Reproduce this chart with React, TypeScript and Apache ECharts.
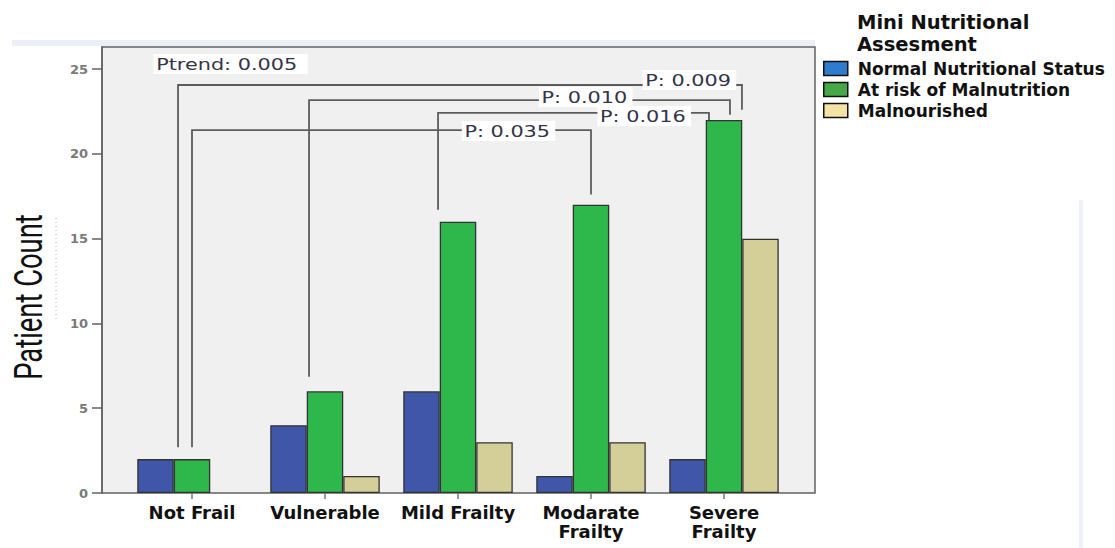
import React, { useEffect, useRef } from "react";
import * as echarts from "echarts";

// ---------- data ----------
const categories = ["Not Frail", "Vulnerable", "Mild Frailty", "Modarate\nFrailty", "Severe\nFrailty"];
const seriesNames = ["Normal Nutritional Status", "At risk of Malnutrition", "Malnourished"];
const normalValues = [2, 4, 6, 1, 2];
const atRiskValues = [2, 6, 16, 17, 22];
const malnourishedValues = [0, 1, 3, 3, 15];
const yTicks = [0, 5, 10, 15, 20, 25];
const yMax = 26.3;

// significance brackets (category index, value levels)
const bracketLabels = ["P: 0.009", "P: 0.010", "P: 0.016", "P: 0.035"];
const bracketFrom = [0, 1, 2, 0];
const bracketTo = [4, 4, 4, 3];
const bracketLevel = [24.06, 23.17, 22.41, 21.4];
const bracketFromEnd = [2.7, 6.85, 16.7, 2.7];
const bracketToEnd = [22.6, 22.3, 22.0, 17.6];
const bracketLabelCat = [3.74, 2.96, 3.4, 2.38];
const bracketLabelValue = [24.35, 23.35, 22.23, 21.34];
const trendLabel = "Ptrend: 0.005";
const trendLabelCat = 0.29;
const trendLabelValue = 25.3;

// ---------- layout / style ----------
const legFromOffset = [-0.105, -0.12, -0.15, 0.0];
const legToOffset = [0.135, 0.045, -0.113, 0.0];

const barColors = ["#3f56a9", "#2eb84b", "#d4cf99"];
const legendColors = ["#2f7ccf", "#46a846", "#f5e3a6"];

export default function App() {
  const ref = useRef<HTMLDivElement>(null);

  useEffect(() => {
    document.body.style.margin = "0";
    if (!ref.current) return;
    const chart = echarts.init(ref.current, undefined, { renderer: "svg" });

    const bracketData = bracketLabels.map((_, i) => [
      bracketFrom[i],
      bracketTo[i],
      bracketLevel[i],
      bracketFromEnd[i],
      bracketToEnd[i],
      bracketLabelCat[i],
      bracketLabelValue[i],
    ]);

    const labelFont = "16px 'DejaVu Sans'";

    const option: any = {
      animation: false,
      backgroundColor: "#ffffff",
      title: {
        text: "Mini Nutritional\nAssesment",
        left: 857,
        top: 11,
        padding: 0,
        textStyle: {
          fontFamily: "DejaVu Sans",
          fontWeight: "bold",
          fontSize: 19.5,
          lineHeight: 22,
          color: "#111",
        },
      },
      legend: {
        orient: "vertical",
        left: 818,
        top: 55,
        itemWidth: 24,
        itemHeight: 14,
        itemGap: 4,
        icon: "rect",
        selectedMode: false,
        textStyle: {
          fontFamily: "DejaVu Sans",
          fontWeight: "bold",
          fontSize: 17,
          color: "#111",
          padding: [0, 0, 0, 5],
        },
        data: seriesNames.map((n, i) => ({
          name: n,
          itemStyle: { color: legendColors[i], borderColor: "#111", borderWidth: 1.5 },
        })),
      },
      grid: [
        {
          left: 102,
          top: 47,
          width: 713,
          height: 446,
          show: true,
          backgroundColor: "#f0f0f0",
          borderColor: "#626262",
          borderWidth: 1.5,
        },
        {
          left: 125.5,
          top: 47,
          width: 665,
          height: 446,
        },
      ],
      xAxis: [
        { type: "category", gridIndex: 0, show: false, data: categories },
        {
          type: "category",
          gridIndex: 1,
          data: categories,
          axisLine: { show: false },
          axisTick: { show: true, alignWithLabel: true, length: 6, lineStyle: { color: "#777", width: 1.5 } },
          axisLabel: {
            interval: 0,
            margin: 10,
            fontFamily: "DejaVu Sans",
            fontWeight: "bold",
            fontSize: 18,
            lineHeight: 19,
            color: "#111",
          },
        },
      ],
      yAxis: [
        {
          type: "value",
          gridIndex: 0,
          min: 0,
          max: yMax,
          splitLine: { show: false },
          axisLine: { show: true, lineStyle: { color: "#626262", width: 1.5 } },
          axisTick: { show: true, length: 10, customValues: yTicks, lineStyle: { color: "#626262", width: 1.5 } },
          axisLabel: {
            customValues: yTicks,
            margin: 14,
            fontFamily: "DejaVu Sans",
            fontWeight: "bold",
            fontSize: 13,
            color: "#7a7a7a",
          },
        },
        { type: "value", gridIndex: 1, min: 0, max: yMax, show: false },
      ],
      graphic: [
        { type: "rect", shape: { x: 12, y: 40, width: 803, height: 6 }, style: { fill: "#ebeff6" }, silent: true },
        { type: "rect", shape: { x: 1079, y: 200, width: 4, height: 348 }, style: { fill: "#eef2f8" }, silent: true },
        {
          type: "line",
          shape: { x1: 56, y1: 218, x2: 56, y2: 322 },
          style: { stroke: "#a8a8a8", lineWidth: 1, lineDash: [1, 3] },
          silent: true,
        },
        {
          type: "text",
          x: 29,
          y: 297,
          rotation: Math.PI / 2,
          scaleX: 0.72,
          style: {
            text: "Patient Count",
            font: "38px Roboto",
            fill: "#111",
            align: "center",
            verticalAlign: "middle",
          },
          silent: true,
        },
      ],
      series: [
        ...[normalValues, atRiskValues, malnourishedValues].map((vals, i) => ({
          name: seriesNames[i],
          type: "bar",
          xAxisIndex: 1,
          yAxisIndex: 1,
          data: vals.map((v) => (v === 0 ? { value: v, itemStyle: { borderWidth: 0 } } : v)),
          barWidth: 36.5,
          barGap: "0%",
          itemStyle: { color: barColors[i], borderColor: "#333", borderWidth: 1.3 },
        })),
        {
          type: "custom",
          name: "brackets",
          xAxisIndex: 1,
          yAxisIndex: 1,
          z: 5,
          clip: false,
          encode: { x: 0, y: 2 },
          data: bracketData,
          renderItem: (params: any, api: any) => {
            const i = params.dataIndex;
            const from = api.value(0);
            const to = api.value(1);
            const level = api.value(2);
            const fromEnd = api.value(3);
            const toEnd = api.value(4);
            const lc = api.value(5);
            const lv = api.value(6);
            const band = api.size([1, 0])[0];
            const pt = (cat: number, off: number, v: number) => {
              const c = api.coord([cat, v]);
              return [c[0] + off * band, c[1]];
            };
            const a = pt(from, legFromOffset[i], fromEnd);
            const b = pt(from, legFromOffset[i], level);
            const c = pt(to, legToOffset[i], level);
            const d = pt(to, legToOffset[i], toEnd);
            const origin = api.coord([0, lv]);
            const lx = origin[0] + lc * band;
            return {
              type: "group",
              children: [
                {
                  type: "polyline",
                  shape: { points: [a, b, c, d] },
                  style: { stroke: "#5c5c5c", lineWidth: 1.8, fill: null },
                },
                {
                  type: "text",
                  x: lx,
                  y: origin[1],
                  scaleX: 1.3,
                  style: {
                    text: bracketLabels[i],
                    font: labelFont,
                    fill: "#33344a",
                    align: "center",
                    verticalAlign: "middle",
                    backgroundColor: "#ffffff",
                    padding: [2, 4, 2, 2],
                  },
                },
              ],
            };
          },
        },
        {
          type: "custom",
          name: "trend",
          xAxisIndex: 1,
          yAxisIndex: 1,
          z: 5,
          clip: false,
          encode: { x: 0, y: 1 },
          data: [[trendLabelCat, trendLabelValue]],
          renderItem: (params: any, api: any) => {
            const band = api.size([1, 0])[0];
            const origin = api.coord([0, api.value(1)]);
            return {
              type: "text",
              x: origin[0] + api.value(0) * band,
              y: origin[1],
              scaleX: 1.3,
              style: {
                text: trendLabel,
                font: labelFont,
                fill: "#33344a",
                align: "center",
                verticalAlign: "middle",
                backgroundColor: "#ffffff",
                padding: [2, 8, 2, 2],
              },
            };
          },
        },
      ],
    };

    chart.setOption(option);
    return () => chart.dispose();
  }, []);

  return <div ref={ref} style={{ width: 1115, height: 548 }} />;
}
